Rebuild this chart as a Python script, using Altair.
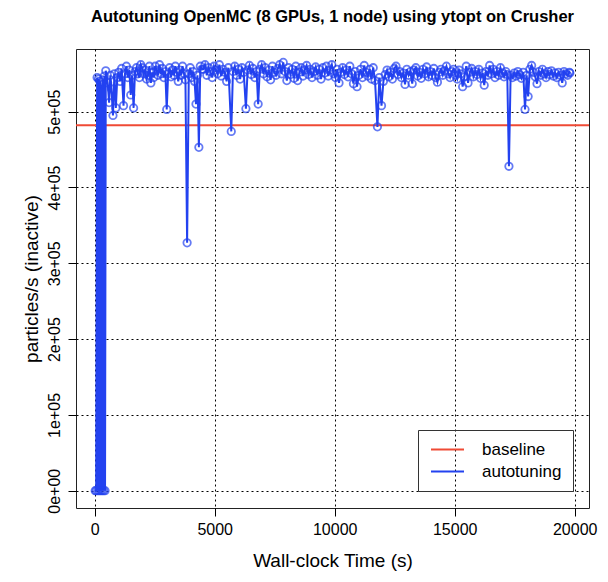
import altair as alt
import pandas as pd

RED = "#ef4a35"
BLUE = "#2342f0"
FONT = "Liberation Sans"

# Wall-clock time (s) and throughput (thousand particles/s)
t_early = [20, 60, 100, 130, 160, 190, 220, 250, 280, 310, 340, 370, 400, 430, 460,
           540, 600, 650, 700, 760, 820, 880, 940, 1000, 1060,
           1120, 1200, 1260, 1320, 1380, 1440, 1500, 1560, 1620, 1680,
           1740, 1800, 1860, 1920, 1980, 2040, 2100, 2160, 2220, 2280,
           2340, 2400, 2460, 2520, 2580, 2640, 2700, 2760, 2820, 2880,
           2940, 3000, 3060, 3120, 3180, 3240, 3300, 3360, 3420, 3480,
           3540, 3600, 3660, 3720, 3780, 3850, 3920, 3980, 4040, 4100,
           4160, 4220, 4280, 4340, 4400, 4460]
v_early = [0, 0, 545, 0, 543, 0, 540, 0, 536, 0, 542, 0, 547, 0, 554,
           538, 512, 548, 530, 495, 550, 505, 545, 552, 540,
           557, 508, 550, 560, 545, 555, 522, 548, 505, 553,
           558, 550, 545, 562, 558, 550, 555, 543, 548, 560,
           538, 552, 545, 560, 555, 548, 562, 550, 557, 545,
           553, 503, 550, 558, 546, 555, 548, 560, 552, 540,
           555, 548, 560, 550, 542, 327, 550, 558, 545, 553,
           540, 510, 548, 453, 560, 556]

t_mid1 = [4520, 4595, 4670, 4745, 4820, 4895, 4970, 5045, 5120, 5195,
          5270, 5345, 5420, 5495, 5570, 5690, 5760, 5835, 5910, 5985,
          6060, 6135, 6210, 6300, 6370, 6445, 6520, 6595, 6670, 6745,
          6810, 6880, 6955, 7030, 7105, 7180, 7255, 7330, 7405, 7480,
          7555, 7630, 7705, 7780, 7855, 7930, 8005, 8080, 8155, 8230,
          8305, 8380, 8455, 8530, 8605, 8680, 8755, 8830, 8905, 8980,
          9055, 9130, 9205, 9280, 9355, 9430, 9505, 9580, 9655, 9730,
          9805, 9880, 9955]
v_mid1 = [556, 562, 548, 558, 553, 545, 560, 555, 550, 562,
          547, 556, 552, 540, 558, 474, 553, 560, 548, 556,
          543, 558, 552, 504, 555, 561, 549, 557, 545, 553,
          510, 556, 562, 550, 558, 546, 555, 542, 560, 552,
          548, 557, 562, 550, 565, 553, 541, 558, 549, 556,
          544, 560, 541, 552, 558, 547, 555, 561, 549, 556,
          545, 553, 559, 548, 556, 543, 558, 551, 560, 547,
          555, 562, 550]

t_mid2 = [10030, 10105, 10180, 10255, 10330, 10405, 10480, 10555, 10630, 10705,
          10780, 10855, 10930, 11005, 11080, 11155, 11230, 11305, 11380, 11455,
          11530, 11605, 11680, 11780, 11860, 11950, 12030, 12105, 12180, 12255,
          12330, 12405, 12480, 12555, 12630, 12705, 12780, 12855, 12930, 13005,
          13080, 13155, 13230, 13305, 13380, 13455, 13530, 13605, 13680, 13755,
          13830, 13905, 13980, 14055, 14130, 14205, 14280, 14355, 14430, 14505,
          14580, 14655, 14730, 14805, 14880, 14955]
v_mid2 = [545, 556, 538, 552, 558, 549, 555, 546, 560, 550,
          537, 553, 533, 548, 556, 545, 561, 552, 547, 556,
          543, 558, 541, 480, 545, 508, 540, 549, 555, 546,
          552, 543, 557, 560, 549, 553, 545, 551, 536, 556,
          548, 553, 537, 555, 558, 547, 552, 544, 556, 550,
          559, 546, 553, 548, 557, 545, 539, 552, 556, 548,
          554, 560, 550, 545, 553, 556]

t_late = [15030, 15105, 15180, 15255, 15330, 15405, 15480, 15555, 15630, 15705,
          15780, 15855, 15930, 16005, 16080, 16155, 16230, 16305, 16380, 16455,
          16530, 16605, 16680, 16755, 16830, 16905, 16980, 17055, 17130, 17190,
          17260, 17330, 17405, 17480, 17555, 17630, 17705, 17780, 17855, 17930,
          18000, 18060, 18130, 18205, 18280, 18355, 18430, 18505, 18580, 18655,
          18730, 18805, 18880, 18955, 19030, 19105, 19180, 19255, 19330, 19405,
          19480, 19555, 19630, 19705, 19780, 19800]
v_late = [548, 543, 555, 550, 533, 546, 560, 538, 552, 557,
          546, 553, 549, 556, 544, 551, 535, 553, 548, 561,
          550, 556, 545, 553, 548, 558, 551, 546, 553, 549,
          428, 548, 545, 551, 547, 553, 549, 544, 552, 503,
          548, 520, 556, 561, 552, 546, 537, 553, 548, 556,
          550, 545, 553, 549, 554, 547, 551, 545, 552, 548,
          538, 553, 550, 548, 552, 551]

baseline_rate = 482000

x_ticks = [0, 5000, 10000, 15000, 20000]
y_ticks = [0, 100000, 200000, 300000, 400000, 500000]

times = t_early + t_mid1 + t_mid2 + t_late
vals = v_early + v_mid1 + v_mid2 + v_late
df = pd.DataFrame({"t": times, "rate": [v * 1000 for v in vals]})
df["series"] = "autotuning"
base_df = pd.DataFrame({"rate": [baseline_rate], "series": ["baseline"]})

x_scale = alt.Scale(domain=[-780, 20596], nice=False, zero=False)
y_scale = alt.Scale(domain=[-22800, 582700], nice=False, zero=False)
color_scale = alt.Scale(domain=["baseline", "autotuning"], range=[RED, BLUE])

x_axis = alt.Axis(title="Wall-clock Time (s)", values=x_ticks, format="d",
                  grid=True, gridColor="black", gridDash=[2, 3], gridWidth=1, gridOpacity=1,
                  domain=False, tickColor="black", tickSize=8, tickWidth=1,
                  labelFont=FONT, labelFontSize=16, labelColor="black", labelPadding=5,
                  titleFont=FONT, titleFontSize=19, titleFontWeight="normal",
                  titleColor="black", titlePadding=14)
y_axis = alt.Axis(title="particles/s (inactive)", values=y_ticks,
                  labelExpr="datum.value == 0 ? '0e+00' : (datum.value / 100000) + 'e+05'",
                  grid=True, gridColor="black", gridDash=[2, 3], gridWidth=1, gridOpacity=1,
                  domain=False, tickColor="black", tickSize=8, tickWidth=1,
                  labelAngle=270, labelAlign="center", labelBaseline="bottom",
                  labelFont=FONT, labelFontSize=16, labelColor="black", labelPadding=6,
                  titleFont=FONT, titleFontSize=19, titleFontWeight="normal",
                  titleColor="black", titlePadding=5)

line = alt.Chart(df).mark_line(strokeWidth=2, clip=True).encode(
    x=alt.X("t:Q", scale=x_scale, axis=x_axis),
    y=alt.Y("rate:Q", scale=y_scale, axis=y_axis),
    color=alt.Color("series:N", scale=color_scale, legend=alt.Legend(title=None)),
)
points = alt.Chart(df).mark_point(filled=False, size=55, strokeWidth=1.8, color=BLUE, clip=True).encode(
    x=alt.X("t:Q", scale=x_scale),
    y=alt.Y("rate:Q", scale=y_scale),
)
base = alt.Chart(base_df).mark_rule(strokeWidth=2).encode(
    y=alt.Y("rate:Q", scale=y_scale),
    color=alt.Color("series:N", scale=color_scale, legend=alt.Legend(title=None)),
)

chart = alt.layer(base, line, points).properties(
    width=513, height=459,
    title=alt.Title("Autotuning OpenMC (8 GPUs, 1 node) using ytopt on Crusher",
                    font=FONT, fontSize=16.5, fontWeight="bold", color="black",
                    anchor="middle", offset=24),
    autosize=alt.AutoSizeParams(type="none"),
    padding={"left": 68, "top": 41, "right": 11, "bottom": 66},
).configure_view(stroke="#222", strokeWidth=1).configure_legend(
    orient="none", legendX=342, legendY=381,
    strokeColor="#333", padding=11, symbolType="M-3.3,0H3.3", symbolSize=100,
    symbolStrokeWidth=2, symbolOffset=10, labelFont=FONT, labelFontSize=17,
    labelColor="black", labelOffset=26, rowPadding=4, symbolOpacity=1,
)

chart.save("out.html", embed_options={"renderer": "svg", "actions": False})
